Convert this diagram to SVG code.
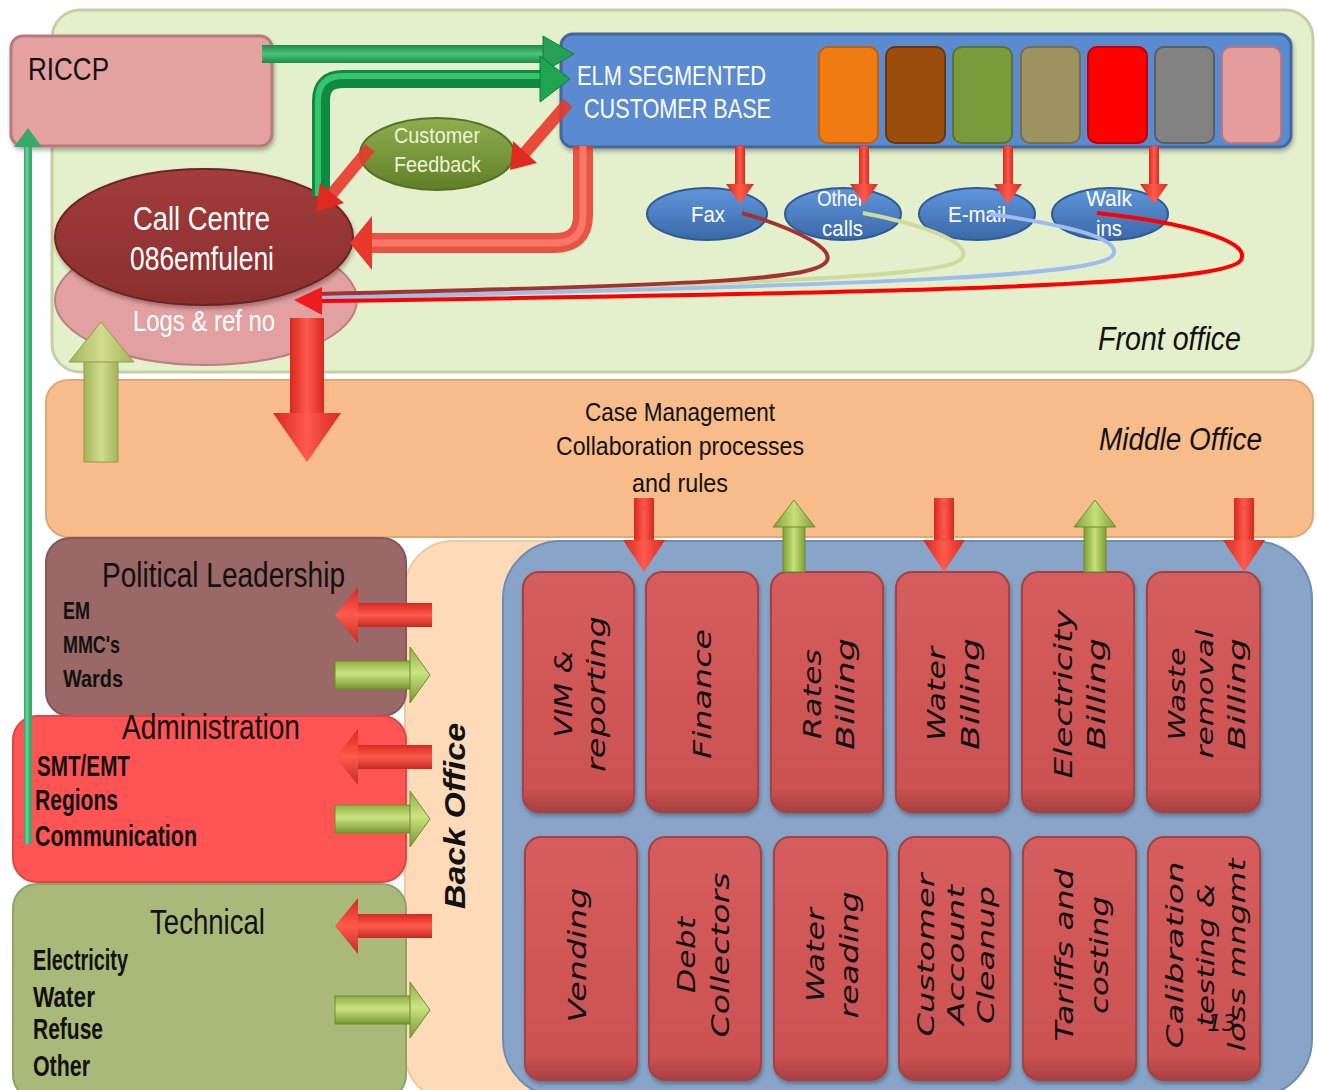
<svg xmlns="http://www.w3.org/2000/svg" width="1317" height="1090" viewBox="0 0 1317 1090">
<defs>
<filter id="sh" x="-10%" y="-10%" width="120%" height="130%"><feDropShadow dx="1" dy="3" stdDeviation="2" flood-color="#000" flood-opacity="0.3"/></filter>
<linearGradient id="gRedV" x1="0" y1="0" x2="1" y2="0"><stop offset="0" stop-color="#d8281f"/><stop offset="0.5" stop-color="#ff5a4c"/><stop offset="1" stop-color="#d8281f"/></linearGradient>
<linearGradient id="gRedH" x1="0" y1="0" x2="0" y2="1"><stop offset="0" stop-color="#d8281f"/><stop offset="0.5" stop-color="#ff5a4c"/><stop offset="1" stop-color="#c42a22"/></linearGradient>
<linearGradient id="gGrnV" x1="0" y1="0" x2="1" y2="0"><stop offset="0" stop-color="#7f9e35"/><stop offset="0.5" stop-color="#c6e07a"/><stop offset="1" stop-color="#7f9e35"/></linearGradient>
<linearGradient id="gGrnH" x1="0" y1="0" x2="0" y2="1"><stop offset="0" stop-color="#8fae42"/><stop offset="0.45" stop-color="#cbe482"/><stop offset="1" stop-color="#769633"/></linearGradient>
<linearGradient id="gOlive" x1="0" y1="0" x2="1" y2="0"><stop offset="0" stop-color="#a4b45a"/><stop offset="0.5" stop-color="#d2dc8e"/><stop offset="1" stop-color="#a4b45a"/></linearGradient>
<linearGradient id="gDkGrn" x1="0" y1="0" x2="0" y2="1"><stop offset="0" stop-color="#1d8a4a"/><stop offset="0.5" stop-color="#4cc47c"/><stop offset="1" stop-color="#1d8a4a"/></linearGradient>
<linearGradient id="gBox" x1="0" y1="0" x2="0" y2="1"><stop offset="0" stop-color="#d65d5d"/><stop offset="0.9" stop-color="#cc5252"/><stop offset="1" stop-color="#a84040"/></linearGradient>
<linearGradient id="gBlueEl" x1="0" y1="0" x2="0" y2="1"><stop offset="0" stop-color="#6096dc"/><stop offset="1" stop-color="#3a68a8"/></linearGradient>
<linearGradient id="gFeed" x1="0" y1="0" x2="0" y2="1"><stop offset="0" stop-color="#8fae4e"/><stop offset="1" stop-color="#627f28"/></linearGradient>
<linearGradient id="gCall" x1="0" y1="0" x2="0" y2="1"><stop offset="0" stop-color="#a33c3c"/><stop offset="1" stop-color="#8a2e2e"/></linearGradient>
</defs>
<style>
.t{font-family:"Liberation Sans",Arial,sans-serif;}
.w{fill:#ffffff;}
.k{fill:#111111;}
.it{font-style:italic;}
.bx text{font-family:"DejaVu Sans",sans-serif;font-style:italic;font-size:25px;fill:#111;text-anchor:middle;}
.bx3 text{font-size:23px;}
.box{fill:url(#gBox);stroke:#a54242;stroke-width:2;}
.tile{stroke-width:2;}
.ch{fill:url(#gBlueEl);stroke:#2f5a95;stroke-width:2;}
.ra{fill:url(#gRedV);}
.rh{fill:url(#gRedH);}
.ga{fill:url(#gGrnV);stroke:#6e8c2c;stroke-width:1;}
.gh{fill:url(#gGrnH);stroke:#6e8c2c;stroke-width:1;}
</style>

<!-- Panels -->
<g id="front-office">
<rect x="52" y="10" width="1261" height="362" rx="28" fill="#e4efcc" stroke="#c4cfa4" stroke-width="3"/>
<text class="t k it" x="1098" y="350" font-size="33" textLength="143" lengthAdjust="spacingAndGlyphs">Front office</text>
</g>
<g id="middle-office">
<rect x="46" y="380" width="1267" height="157" rx="22" fill="#f8bc8a" stroke="#e2a775" stroke-width="2"/>
<text class="t k" x="585" y="421" font-size="26" textLength="190" lengthAdjust="spacingAndGlyphs">Case Management</text>
<text class="t k" x="556" y="455" font-size="26" textLength="248" lengthAdjust="spacingAndGlyphs">Collaboration processes</text>
<text class="t k" x="632" y="492" font-size="26" textLength="96" lengthAdjust="spacingAndGlyphs">and rules</text>
<text class="t k it" x="1099" y="450" font-size="31" textLength="163" lengthAdjust="spacingAndGlyphs">Middle Office</text>
</g>
<g id="back-office">
<rect x="405" y="541" width="320" height="560" rx="48" fill="#fddbb8" stroke="#f0c9a0" stroke-width="2"/>
<text class="t k" font-weight="bold" font-style="italic" font-size="29" text-anchor="middle" textLength="186" lengthAdjust="spacingAndGlyphs" transform="translate(454,816) rotate(-90)" x="0" y="11">Back Office</text>
</g>
<g id="back-office-units">
<rect x="503" y="541" width="809" height="556" rx="58" fill="#88a5c9" stroke="#6d8cb3" stroke-width="2"/>
</g>

<!-- Top row boxes -->
<g id="vim-reporting" class="bx"><rect class="box" x="523" y="572" width="111" height="240" rx="16" filter="url(#sh)"/>
<g transform="translate(579,694) rotate(-90)"><text y="-7" textLength="87" lengthAdjust="spacingAndGlyphs">VIM &amp;</text><text y="26" textLength="156" lengthAdjust="spacingAndGlyphs">reporting</text></g></g>
<g id="finance" class="bx"><rect class="box" x="646" y="572" width="112" height="240" rx="16" filter="url(#sh)"/>
<g transform="translate(702,694) rotate(-90)"><text y="9" textLength="130" lengthAdjust="spacingAndGlyphs">Finance</text></g></g>
<g id="rates-billing" class="bx"><rect class="box" x="771" y="572" width="112" height="240" rx="16" filter="url(#sh)"/>
<g transform="translate(827,694) rotate(-90)"><text y="-6" textLength="90" lengthAdjust="spacingAndGlyphs">Rates</text><text y="27" textLength="112" lengthAdjust="spacingAndGlyphs">Billing</text></g></g>
<g id="water-billing" class="bx"><rect class="box" x="896" y="572" width="113" height="240" rx="16" filter="url(#sh)"/>
<g transform="translate(952,694) rotate(-90)"><text y="-7" textLength="94" lengthAdjust="spacingAndGlyphs">Water</text><text y="27" textLength="112" lengthAdjust="spacingAndGlyphs">Billing</text></g></g>
<g id="electricity-billing" class="bx"><rect class="box" x="1022" y="572" width="112" height="240" rx="16" filter="url(#sh)"/>
<g transform="translate(1078,694) rotate(-90)"><text y="-6" textLength="169" lengthAdjust="spacingAndGlyphs">Electricity</text><text y="27" textLength="112" lengthAdjust="spacingAndGlyphs">Billing</text></g></g>
<g id="waste-removal-billing" class="bx bx3"><rect class="box" x="1147" y="572" width="113" height="240" rx="16" filter="url(#sh)"/>
<g transform="translate(1203,694) rotate(-90)"><text y="-18" textLength="93" lengthAdjust="spacingAndGlyphs">Waste</text><text y="10" textLength="129" lengthAdjust="spacingAndGlyphs">removal</text><text y="42" textLength="112" lengthAdjust="spacingAndGlyphs">Billing</text></g></g>

<!-- Bottom row boxes -->
<g id="vending" class="bx"><rect class="box" x="525" y="837" width="112" height="243" rx="16" filter="url(#sh)"/>
<g transform="translate(581,955) rotate(-90)"><text y="5" textLength="135" lengthAdjust="spacingAndGlyphs">Vending</text></g></g>
<g id="debt-collectors" class="bx"><rect class="box" x="649" y="837" width="112" height="243" rx="16" filter="url(#sh)"/>
<g transform="translate(705,955) rotate(-90)"><text y="-10" textLength="76" lengthAdjust="spacingAndGlyphs">Debt</text><text y="24" textLength="165" lengthAdjust="spacingAndGlyphs">Collectors</text></g></g>
<g id="water-reading" class="bx"><rect class="box" x="774" y="837" width="113" height="243" rx="16" filter="url(#sh)"/>
<g transform="translate(830,955) rotate(-90)"><text y="-6" textLength="94" lengthAdjust="spacingAndGlyphs">Water</text><text y="28" textLength="127" lengthAdjust="spacingAndGlyphs">reading</text></g></g>
<g id="customer-account-cleanup" class="bx bx3"><rect class="box" x="899" y="837" width="111" height="243" rx="16" filter="url(#sh)"/>
<g transform="translate(955,955) rotate(-90)"><text y="-21" textLength="163" lengthAdjust="spacingAndGlyphs">Customer</text><text y="9" textLength="140" lengthAdjust="spacingAndGlyphs">Account</text><text y="39" textLength="138" lengthAdjust="spacingAndGlyphs">Cleanup</text></g></g>
<g id="tariffs-costing" class="bx"><rect class="box" x="1023" y="837" width="113" height="243" rx="16" filter="url(#sh)"/>
<g transform="translate(1079,955) rotate(-90)"><text y="-6" textLength="173" lengthAdjust="spacingAndGlyphs">Tariffs and</text><text y="29" textLength="118" lengthAdjust="spacingAndGlyphs">costing</text></g></g>
<g id="calibration" class="bx bx3"><rect class="box" x="1148" y="837" width="112" height="243" rx="16" filter="url(#sh)"/>
<g transform="translate(1204,955) rotate(-90)"><text y="-21" textLength="187" lengthAdjust="spacingAndGlyphs">Calibration</text><text y="10" textLength="143" lengthAdjust="spacingAndGlyphs">testing &amp;</text><text y="41" textLength="193" lengthAdjust="spacingAndGlyphs">loss mngmt</text></g>
<text class="t" x="1222" y="1031" font-size="12" fill="#9a9a9a">13</text></g>

<!-- Left panels -->
<g id="political-leadership">
<rect x="46" y="538" width="360" height="178" rx="24" fill="#9a6866" stroke="#86585a" stroke-width="2"/>
<text class="t k" x="102" y="587" font-size="35" textLength="243" lengthAdjust="spacingAndGlyphs">Political Leadership</text>
<text class="t k" x="63" y="619" font-size="24" font-weight="bold" textLength="27" lengthAdjust="spacingAndGlyphs">EM</text>
<text class="t k" x="63" y="653" font-size="24" font-weight="bold" textLength="57" lengthAdjust="spacingAndGlyphs">MMC's</text>
<text class="t k" x="63" y="687" font-size="24" font-weight="bold" textLength="60" lengthAdjust="spacingAndGlyphs">Wards</text>
</g>
<g id="administration">
<rect x="13" y="716" width="393" height="166" rx="24" fill="#ff5454" stroke="#e04646" stroke-width="2"/>
<text class="t k" x="122" y="739" font-size="35" textLength="178" lengthAdjust="spacingAndGlyphs">Administration</text>
<text class="t k" x="37" y="776" font-size="29" font-weight="bold" textLength="93" lengthAdjust="spacingAndGlyphs">SMT/EMT</text>
<text class="t k" x="35" y="810" font-size="29" font-weight="bold" textLength="83" lengthAdjust="spacingAndGlyphs">Regions</text>
<text class="t k" x="35" y="846" font-size="29" font-weight="bold" textLength="162" lengthAdjust="spacingAndGlyphs">Communication</text>
</g>
<g id="technical">
<rect x="13" y="884" width="393" height="215" rx="24" fill="#a9b97a" stroke="#92a266" stroke-width="2"/>
<text class="t k" x="150" y="934" font-size="35" textLength="115" lengthAdjust="spacingAndGlyphs">Technical</text>
<text class="t k" x="33" y="970" font-size="29" font-weight="bold" textLength="95" lengthAdjust="spacingAndGlyphs">Electricity</text>
<text class="t k" x="33" y="1007" font-size="29" font-weight="bold" textLength="62" lengthAdjust="spacingAndGlyphs">Water</text>
<text class="t k" x="33" y="1039" font-size="29" font-weight="bold" textLength="70" lengthAdjust="spacingAndGlyphs">Refuse</text>
<text class="t k" x="33" y="1076" font-size="29" font-weight="bold" textLength="57" lengthAdjust="spacingAndGlyphs">Other</text>
</g>

<!-- Front office nodes -->
<g id="riccp">
<rect x="11" y="36" width="261" height="110" rx="12" fill="#e5a0a0" stroke="#b47c7c" stroke-width="3" filter="url(#sh)"/>
<text class="t k" x="28" y="80" font-size="31" textLength="81" lengthAdjust="spacingAndGlyphs">RICCP</text>
</g>
<g id="elm-segmented-customer-base">
<rect x="561" y="34" width="730" height="113" rx="12" fill="#5a8ad0" stroke="#40679f" stroke-width="3" filter="url(#sh)"/>
<text class="t w" x="577" y="85" font-size="28" textLength="189" lengthAdjust="spacingAndGlyphs">ELM SEGMENTED</text>
<text class="t w" x="584" y="118" font-size="28" textLength="187" lengthAdjust="spacingAndGlyphs">CUSTOMER BASE</text>
<rect class="tile" x="819" y="47" width="59" height="96" rx="9" fill="#f07b12" stroke="#c0600c"/>
<rect class="tile" x="886" y="47" width="59" height="96" rx="9" fill="#9b4e0c" stroke="#6e3608"/>
<rect class="tile" x="953" y="47" width="59" height="96" rx="9" fill="#7b9a3b" stroke="#5a7428"/>
<rect class="tile" x="1021" y="47" width="59" height="96" rx="9" fill="#9e9260" stroke="#786e44"/>
<rect class="tile" x="1088" y="47" width="59" height="96" rx="9" fill="#ff0000" stroke="#c00000"/>
<rect class="tile" x="1155" y="47" width="59" height="96" rx="9" fill="#828282" stroke="#5e5e5e"/>
<rect class="tile" x="1222" y="47" width="59" height="96" rx="9" fill="#e59d9d" stroke="#b87878"/>
</g>
<g id="customer-feedback">
<ellipse cx="437" cy="154" rx="77" ry="36" fill="url(#gFeed)" stroke="#566f24" stroke-width="2"/>
<text class="t" x="394" y="143" font-size="22" fill="#eef4d6" textLength="86" lengthAdjust="spacingAndGlyphs">Customer</text>
<text class="t" x="394" y="172" font-size="22" fill="#eef4d6" textLength="87" lengthAdjust="spacingAndGlyphs">Feedback</text>
</g>
<g id="logs-ref-no">
<ellipse cx="206" cy="300" rx="151" ry="65" fill="#e2a0a0" stroke="#b88080" stroke-width="2"/>
<text class="t w" x="133" y="331" font-size="29" textLength="142" lengthAdjust="spacingAndGlyphs">Logs &amp; ref no</text>
</g>
<g id="call-centre">
<ellipse cx="204" cy="237" rx="149" ry="68" fill="url(#gCall)" stroke="#6e2424" stroke-width="2" filter="url(#sh)"/>
<text class="t w" x="133" y="230" font-size="34" textLength="137" lengthAdjust="spacingAndGlyphs">Call Centre</text>
<text class="t w" x="130" y="270" font-size="34" textLength="144" lengthAdjust="spacingAndGlyphs">086emfuleni</text>
</g>
<g id="fax"><ellipse class="ch" cx="707" cy="214" rx="60" ry="26"/><text class="t w" x="691" y="222" font-size="22" textLength="34" lengthAdjust="spacingAndGlyphs">Fax</text></g>
<g id="other-calls"><ellipse class="ch" cx="843" cy="214" rx="58" ry="26"/><text class="t w" x="817" y="206" font-size="22" textLength="47" lengthAdjust="spacingAndGlyphs">Other</text><text class="t w" x="822" y="236" font-size="22" textLength="41" lengthAdjust="spacingAndGlyphs">calls</text></g>
<g id="e-mail"><ellipse class="ch" cx="977" cy="214" rx="58" ry="26"/><text class="t w" x="948" y="222" font-size="22" textLength="58" lengthAdjust="spacingAndGlyphs">E-mail</text></g>
<g id="walk-ins"><ellipse class="ch" cx="1110" cy="214" rx="58" ry="26"/><text class="t w" x="1086" y="206" font-size="22" textLength="46" lengthAdjust="spacingAndGlyphs">Walk</text><text class="t w" x="1096" y="236" font-size="22" textLength="26" lengthAdjust="spacingAndGlyphs">ins</text></g>

<!-- Connectors -->
<g id="connectors">
<rect x="262" y="45" width="283" height="18" fill="url(#gDkGrn)"/>
<polygon points="543,36 574,54 543,72" fill="#27a055" stroke="#157a3c" stroke-width="1"/>
<path d="M321,196 L321,101 Q321,79 343,79 L542,79" fill="none" stroke="#108a40" stroke-width="18"/>
<path d="M318,196 L318,101 Q318,76 343,76 L542,76" fill="none" stroke="#38c46f" stroke-width="6"/>
<polygon points="540,56 570,79 540,102" fill="#1fa552" stroke="#0f7a36" stroke-width="1"/>
<line x1="28" y1="844" x2="28" y2="146" stroke="#3fa86e" stroke-width="8"/>
<line x1="27" y1="844" x2="27" y2="146" stroke="#5fd08f" stroke-width="3"/>
<polygon points="14,147 28,128 42,147" fill="#3aa86a"/>
<path d="M583,146 L583,215 Q583,243 555,243 L370,243" fill="none" stroke="#e8382c" stroke-width="20" stroke-opacity="0.85"/>
<path d="M583,146 L583,215 Q583,243 555,243 L370,243" fill="none" stroke="#ff8070" stroke-width="7" stroke-opacity="0.8"/>
<polygon points="372,216 350,243 372,270" fill="#e8382c"/>
<line x1="568" y1="103" x2="523" y2="155" stroke="#e8382c" stroke-width="12" stroke-opacity="0.9"/>
<polygon points="537,163 513,141 510,170" fill="#e02a20"/>
<line x1="370" y1="148" x2="331" y2="195" stroke="#e8382c" stroke-width="12" stroke-opacity="0.9"/>
<polygon points="344,203 320,183 316,212" fill="#e02a20"/>
<rect class="ra" x="735" y="146" width="10" height="40"/><polygon class="ra" points="726,184 754,184 740,204"/>
<rect class="ra" x="859" y="146" width="10" height="40"/><polygon class="ra" points="850,184 878,184 864,204"/>
<rect class="ra" x="1003" y="146" width="10" height="40"/><polygon class="ra" points="994,184 1022,184 1008,204"/>
<rect class="ra" x="1149" y="146" width="10" height="40"/><polygon class="ra" points="1140,184 1168,184 1154,204"/>
<path d="M863,213 C930,226 972,244 962,258 C950,276 800,282 318,296" fill="none" stroke="#cddc9e" stroke-width="4"/>
<path d="M990,214 C1075,226 1122,240 1113,255 C1100,276 900,284 318,298" fill="none" stroke="#9dbdef" stroke-width="4"/>
<path d="M742,213 C800,230 836,250 826,262 C812,280 700,285 318,294" fill="none" stroke="#a33333" stroke-width="4"/>
<path d="M1097,213 C1180,222 1252,240 1241,260 C1226,286 900,293 318,301" fill="none" stroke="#ff0000" stroke-width="4"/>
<polygon points="322,287 294,300 322,315" fill="#ee1c1c"/>
<rect x="84" y="360" width="34" height="102" fill="url(#gOlive)" stroke="#8e9c4c" stroke-width="1"/>
<polygon points="69,362 101,322 134,362" fill="url(#gOlive)" stroke="#8e9c4c" stroke-width="1"/>
<rect class="ra" x="290" y="318" width="34" height="97"/>
<polygon class="ra" points="273,413 341,413 307,462"/>
<rect class="ra" x="634" y="498" width="20" height="44"/><polygon class="ra" points="623,540 665,540 644,572"/>
<rect class="ga" x="783" y="525" width="22" height="47"/><polygon class="ga" points="773,527 794,500 815,527"/>
<rect class="ra" x="934" y="498" width="20" height="44"/><polygon class="ra" points="923,540 965,540 944,572"/>
<rect class="ga" x="1084" y="525" width="22" height="47"/><polygon class="ga" points="1074,527 1095,500 1116,527"/>
<rect class="ra" x="1234" y="498" width="20" height="44"/><polygon class="ra" points="1223,540 1265,540 1244,572"/>
<rect class="rh" x="355" y="603" width="77" height="24"/><polygon class="rh" points="358,587 335,615 358,643"/>
<rect class="gh" x="335" y="661" width="77" height="28"/><polygon class="gh" points="410,647 430,675 410,703"/>
<rect class="rh" x="355" y="745" width="77" height="24"/><polygon class="rh" points="358,729 335,757 358,785"/>
<rect class="gh" x="335" y="805" width="77" height="28"/><polygon class="gh" points="410,791 430,819 410,847"/>
<rect class="rh" x="355" y="914" width="77" height="24"/><polygon class="rh" points="358,898 335,926 358,954"/>
<rect class="gh" x="335" y="996" width="77" height="28"/><polygon class="gh" points="410,982 430,1010 410,1038"/>
</g>
</svg>
